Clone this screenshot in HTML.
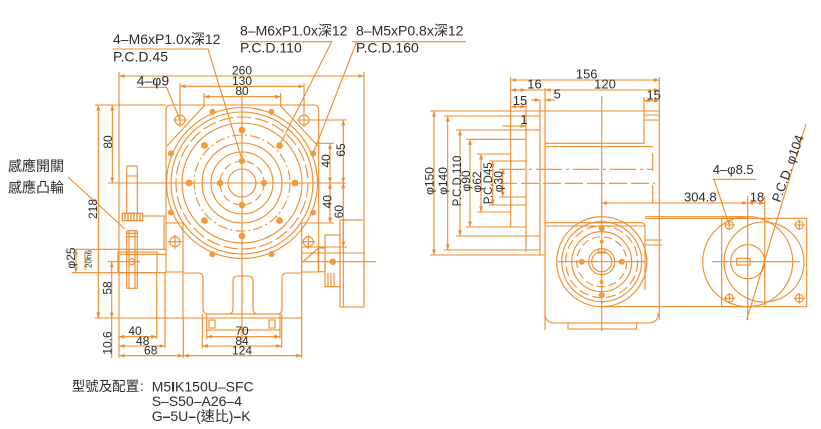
<!DOCTYPE html>
<html><head><meta charset="utf-8">
<style>
html,body{margin:0;padding:0;background:#fff;}
svg{display:block;}
text{font-family:"Liberation Sans","Noto Sans CJK TC",sans-serif;fill:#2b2b2b;}
</style></head><body>
<svg width="821" height="429" viewBox="0 0 821 429" xmlns="http://www.w3.org/2000/svg">
<defs>
<marker id="a" viewBox="0 0 10 10" refX="10" refY="5" markerWidth="5" markerHeight="5" orient="auto-start-reverse"><path d="M0,1.5L10,5L0,8.5z" fill="#ee8a2a"/></marker>
</defs>

<!-- ================= FRONT VIEW ================= -->
<g fill="none" stroke="#ef8b2a" stroke-width="1.1">
  <!-- flange outline -->
  <path d="M166,272 V110 Q166,105 171,105 H314 Q318.7,105 318.7,110 V272"/>
  <path d="M166,272 H183 M301.7,272 H318.7"/>
  <path d="M204,106 L167,146 M280.7,106 L318,146"/>
  <path d="M183,223 V272 M301.7,223 V272 M166,223 H183 M301.7,223 H318.7"/>
  <!-- circles -->
  <circle cx="242" cy="183" r="75.5"/>
  <circle cx="242" cy="183" r="71"/>
  <circle cx="242" cy="183" r="66" stroke-dasharray="14,4"/>
  <circle cx="242" cy="183" r="60"/>
  <circle cx="242" cy="183" r="48" stroke-dasharray="10,3,2,3"/>
  <circle cx="242" cy="183" r="40"/>
  <circle cx="242" cy="183" r="31"/>
  <circle cx="242" cy="183" r="22" stroke-dasharray="8,4"/>
  <circle cx="242" cy="183" r="14"/>
  <!-- holes 4-phi9 and side holes -->
  <circle cx="180" cy="120" r="5"/><path d="M173,120H187M180,113V127"/>
  <circle cx="304" cy="120" r="5"/><path d="M297,120H311M304,113V127"/>
  <circle cx="175" cy="241.7" r="5"/><path d="M168,241.7H182M175,234.7V248.7"/>
  <circle cx="308.3" cy="241.7" r="5"/><path d="M301.3,241.7H315.3M308.3,234.7V248.7"/>
  <!-- lower body -->
  <path d="M183,250 V318 M301.7,250 V318"/>
  <path d="M183,273 H198 Q203,273 203,278 V309 Q203,314 208,314 H228 Q233,314 233,309 V281 Q233,276 238,276 H248 Q253,276 253,281 V309 Q253,314 258,314 H277 Q282,314 282,309 V278 Q282,273 287,273 H302"/>
  <rect x="206.7" y="314" width="73.3" height="16"/>
  <rect x="209" y="320" width="6" height="8"/><rect x="269" y="320" width="6" height="8"/>
  <!-- center lines -->
  <path d="M108,183 H346 M242,93 V342"/>
  <!-- sensor -->
  <rect x="126.7" y="166" width="10.6" height="47.3"/>
  <path d="M126.7,176 H137.3"/>
  <rect x="122.3" y="213.3" width="20.4" height="7.4" stroke-width="1.2"/>
  <path d="M125,213.3V220.7M128,213.3V220.7M131,213.3V220.7M134,213.3V220.7M137,213.3V220.7M140,213.3V220.7" stroke-width="1.3"/>
  <path d="M142.7,216 H166 M164,216 V250"/>
  <rect x="126.7" y="230.7" width="10.6" height="57.6"/>
  <path d="M129,230.7V288.3M135,230.7V288.3M126.7,233.3H137.3M126.7,236.7H137.3"/>
  <circle cx="131.7" cy="261.7" r="3"/>
  <!-- input shaft -->
  <path d="M72,249.3 H166 M72,272.7 H166 M120,254.3 H166"/>
  <rect x="118" y="252" width="39" height="20.7"/>
  <!-- right pulley -->
  <rect x="340" y="220" width="24" height="87"/>
  <path d="M343.3,220 V307"/>
  <rect x="325" y="235" width="15" height="51.7"/>
  <rect x="318.3" y="248" width="6.7" height="23.7"/>
  <path d="M328,273V287M331,273V287M334,273V287"/>
  <path d="M302,253 H365 M302,261.7 H376 M303,261.7 L318.3,248.3"/>
  <!-- dimensions left -->
  <path d="M95,105 H166 M95,318 H302"/>
  <path d="M98.3,105 V318" marker-start="url(#a)" marker-end="url(#a)"/>
  <path d="M112.3,105 V183" marker-start="url(#a)" marker-end="url(#a)"/>
  <path d="M119,72 V358"/>
  <path d="M76,249.3 V272.7" marker-start="url(#a)" marker-end="url(#a)"/>
  <path d="M85,252 V270"/>
  <path d="M108,261.7 H140"/>
  <path d="M111.7,261.7 V318" marker-start="url(#a)" marker-end="url(#a)"/>
  <path d="M111.7,318 V358"/>
  <!-- dimensions bottom -->
  <path d="M156.7,272 V339 M165,272 V348 M183.3,318 V358 M206.7,330 V339 M202.3,314 V348 M280,330 V339 M281.7,314 V348 M301.7,318 V358"/>
  <path d="M119,336.7 H156.7" marker-start="url(#a)" marker-end="url(#a)"/>
  <path d="M119,346 H165" marker-start="url(#a)" marker-end="url(#a)"/>
  <path d="M119,355.7 H183.3" marker-start="url(#a)" marker-end="url(#a)"/>
  <path d="M206.7,336.7 H280" marker-start="url(#a)" marker-end="url(#a)"/>
  <path d="M202.3,346 H281.7" marker-start="url(#a)" marker-end="url(#a)"/>
  <path d="M183.3,355.7 H301.7" marker-start="url(#a)" marker-end="url(#a)"/>
  <!-- dimensions top -->
  <path d="M119,76 H364" marker-start="url(#a)" marker-end="url(#a)"/>
  <path d="M364,72 V307"/>
  <path d="M180,83 V115 M304,83 V115"/>
  <path d="M180,86.3 H304" marker-start="url(#a)" marker-end="url(#a)"/>
  <path d="M204,93 V107 M280.7,93 V107"/>
  <path d="M204,96.7 H280.7" marker-start="url(#a)" marker-end="url(#a)"/>
  <!-- dimensions right -->
  <path d="M308,120 H347 M316,143.3 H334 M318,223 H334 M302,247 H347"/>
  <path d="M330,143.3 V183" marker-start="url(#a)" marker-end="url(#a)"/>
  <path d="M330,183 V223" marker-start="url(#a)" marker-end="url(#a)"/>
  <path d="M343.3,120 V183" marker-start="url(#a)" marker-end="url(#a)"/>
  <path d="M343.3,183 V247" marker-start="url(#a)" marker-end="url(#a)"/>
  <!-- leaders -->
  <path d="M113,49 H208 L242,160"/>
  <path d="M240,41.7 H331.7 L279.5,145.5"/>
  <path d="M352,41.7 H466 M356.7,41.7 L313.1,153.5"/>
  <path d="M136.7,87.3 H166.7 L180,120"/>
  <path d="M68,177 L125,229"/>
</g>
<!-- front dots -->
<g fill="#f39a3a">
  <circle cx="295" cy="183" r="3.4"/><circle cx="279.5" cy="145.5" r="3.4"/><circle cx="242" cy="130" r="3.4"/><circle cx="204.5" cy="145.5" r="3.4"/>
  <circle cx="189" cy="183" r="3.4"/><circle cx="204.5" cy="220.5" r="3.4"/><circle cx="242" cy="236" r="3.4"/><circle cx="279.5" cy="220.5" r="3.4"/>
  <circle cx="264" cy="183" r="3.2"/><circle cx="242" cy="161" r="3.2"/><circle cx="220" cy="183" r="3.2"/><circle cx="242" cy="205" r="3.2"/>
  <circle cx="271.5" cy="111.9" r="3"/><circle cx="313.1" cy="153.5" r="3"/><circle cx="313.1" cy="212.5" r="3"/><circle cx="271.5" cy="254.1" r="3"/>
  <circle cx="212.5" cy="254.1" r="3"/><circle cx="170.9" cy="212.5" r="3"/><circle cx="170.9" cy="153.5" r="3"/><circle cx="212.5" cy="111.9" r="3"/>
  <circle cx="332.7" cy="261.7" r="3.2"/>
</g>

<!-- front text -->
<g font-size="14">
  <text x="113" y="44">4–M6xP1.0x深12</text>
  <text x="113" y="61.5">P.C.D.45</text>
  <text x="240" y="35.7">8–M6xP1.0x深12</text>
  <text x="240" y="52.7">P.C.D.110</text>
  <text x="356" y="35.7">8–M5xP0.8x深12</text>
  <text x="356" y="52.7">P.C.D.160</text>
  <text x="136.7" y="85.5">4–φ9</text>
  <text x="8" y="171">感應開關</text>
  <text x="8" y="192.5">感應凸輪</text>
</g>
<g font-size="12" text-anchor="middle">
  <text x="242" y="74.5">260</text>
  <text x="242" y="84.8">130</text>
  <text x="242" y="95">80</text>
  <text x="135" y="335">40</text>
  <text x="142.7" y="345">48</text>
  <text x="150.7" y="354.5">68</text>
  <text x="242" y="335">70</text>
  <text x="242" y="345">84</text>
  <text x="242" y="354.5">124</text>
  <text transform="translate(112,142) rotate(-90)">80</text>
  <text transform="translate(97,209) rotate(-90)">218</text>
  <text transform="translate(75,258) rotate(-90)">φ25</text>
  <text transform="translate(111.7,288) rotate(-90)">58</text>
  <text transform="translate(111.7,343) rotate(-90)">10.6</text>
  <text transform="translate(330,161) rotate(-90)">40</text>
  <text transform="translate(345,150) rotate(-90)">65</text>
  <text transform="translate(331.5,201.7) rotate(-90)">40</text>
  <text transform="translate(343,211.7) rotate(-90)">60</text>
  <text transform="translate(91.5,259) rotate(-90)" font-size="8">20h6</text>
</g>

<!-- ================= SIDE VIEW ================= -->
<g fill="none" stroke="#ef8b2a" stroke-width="1.1">
  <!-- flange ext lines -->
  <path d="M430,111 H659.3 M430,255 H545"/>
  <path d="M444,116 H540 M444,250 H540"/>
  <path d="M456,130 H540 M456,236 H540"/>
  <path d="M466,139.3 H526 M466,227 H526"/>
  <path d="M477,154 H510.7 M477,212 H510.7"/>
  <path d="M489,161 H526.7 M489,205 H526.7"/>
  <path d="M499,197 H526.7"/>
  <path d="M499,169.3 H652" stroke-dasharray="26,4,3,4"/>
  <path d="M499,183.3 H655" stroke-dasharray="18,4"/>
  <!-- flange vertical lines -->
  <path d="M510.7,77 V227 M526,100 V252 M540,100 V255 M545,88 V330"/>
  <!-- body -->
  <path d="M659.3,77 V320"/>
  <path d="M644,97 V143.3 H545"/>
  <path d="M644,115 H660 M644,120 H660"/>
  <path d="M545,146.7 H653"/>
  <path d="M652.7,153 V213" stroke-dasharray="18,14"/>
  <path d="M545,222.7 H641 Q645,222.7 645,227 V290"/>
  <path d="M545,226 H645"/>
  <path d="M545,313 Q545,323 555,323 H648.3 Q658.3,323 658.3,313"/>
  <rect x="568" y="323" width="68.7" height="6"/>
  <path d="M645,240 H662 M645,245 H662"/>
  <!-- belt -->
  <path d="M645,216.7 H747.7 M645,218.5 H747.7 M601.7,306.7 H747.7"/>
  <!-- input circle -->
  <circle cx="601.7" cy="261.7" r="45"/>
  <circle cx="601.7" cy="261.7" r="40"/>
  <circle cx="601.7" cy="261.7" r="36" stroke-dasharray="10,4"/>
  <circle cx="601.7" cy="261.7" r="30"/>
  <circle cx="601.7" cy="261.7" r="25" stroke-dasharray="8,4"/>
  <circle cx="601.7" cy="261.7" r="13"/>
  <circle cx="601.7" cy="261.7" r="10"/>
  <rect x="598.5" y="249" width="6.4" height="4"/>
  <path d="M558,261.7 H645 M601.7,96 V331"/>
  <!-- motor -->
  <rect x="721.7" y="218.3" width="85" height="88.4"/>
  <circle cx="747.7" cy="261.7" r="45"/>
  <circle cx="764" cy="262" r="40"/>
  <circle cx="747.7" cy="261.7" r="17"/>
  <rect x="736.7" y="258.3" width="13.3" height="6.7"/>
  <path d="M712,261.7 H800 M747.7,196 V320 M764.7,196 V306"/>
  <circle cx="729.3" cy="225" r="4"/><path d="M724,225H735M729.3,219.7V230.3"/>
  <circle cx="799.3" cy="225" r="4"/><path d="M794,225H805M799.3,219.7V230.3"/>
  <circle cx="729.3" cy="298.3" r="4"/><path d="M724,298.3H735M729.3,293V303.6"/>
  <circle cx="799.3" cy="298.3" r="4"/><path d="M794,298.3H805M799.3,293V303.6"/>
  <!-- dims -->
  <path d="M510.7,80 H659.3" marker-start="url(#a)" marker-end="url(#a)"/>
  <path d="M510.7,90 H526" marker-start="url(#a)" marker-end="url(#a)"/>
  <path d="M526,90 H545"/>
  <path d="M545,90 H659.3" marker-start="url(#a)" marker-end="url(#a)"/>
  <path d="M510.7,106.7 H526" marker-start="url(#a)" marker-end="url(#a)"/>
  <path d="M531,100 H540" marker-end="url(#a)"/>
  <path d="M555,100 H545" marker-end="url(#a)"/>
  <path d="M644,100.7 H659.3" marker-start="url(#a)" marker-end="url(#a)"/>
  <path d="M502,126 H526" marker-end="url(#a)"/>
  <path d="M434,111 V255" marker-start="url(#a)" marker-end="url(#a)"/>
  <path d="M447.7,116 V250" marker-start="url(#a)" marker-end="url(#a)"/>
  <path d="M460,130 V236" marker-start="url(#a)" marker-end="url(#a)"/>
  <path d="M470,139.3 V227" marker-start="url(#a)" marker-end="url(#a)"/>
  <path d="M481,154 V212" marker-start="url(#a)" marker-end="url(#a)"/>
  <path d="M492.7,161 V205" marker-start="url(#a)" marker-end="url(#a)"/>
  <path d="M502.7,168.5 V197" marker-start="url(#a)" marker-end="url(#a)"/>
  <path d="M601.7,203 H747.7" marker-start="url(#a)" marker-end="url(#a)"/>
  <path d="M747.7,203 H764.7" marker-start="url(#a)" marker-end="url(#a)"/>
  <!-- leaders -->
  <path d="M712.7,179.3 H756 M714,179.3 L729.3,225"/>
  <path d="M806,124 L746.7,320"/>
</g>
<g fill="#f39a3a">
  <circle cx="601.7" cy="228.3" r="3"/><circle cx="601.7" cy="295" r="3"/>
  <circle cx="581.7" cy="261.7" r="3"/><circle cx="621.7" cy="261.7" r="3"/>
  <circle cx="601.7" cy="241.7" r="2"/><circle cx="601.7" cy="282" r="2"/>
</g>

<!-- side text -->
<g font-size="13" text-anchor="middle">
  <text x="586.7" y="78.5">156</text>
  <text x="534.5" y="88.3">16</text>
  <text x="605" y="88.3">120</text>
  <text x="520" y="105">15</text>
  <text x="557.3" y="98.3">5</text>
  <text x="653.7" y="99.3">15</text>
  <text x="524" y="124">1</text>
  <text x="700.3" y="201.3">304.8</text>
  <text x="757" y="201.3">18</text>
</g>
<g font-size="12" text-anchor="middle">
  <text transform="translate(433.6,181) rotate(-90)">φ150</text>
  <text transform="translate(447,181) rotate(-90)">φ140</text>
  <text transform="translate(461,181) rotate(-90)" font-size="11.5">P.C.D.110</text>
  <text transform="translate(470,181) rotate(-90)">φ90</text>
  <text transform="translate(481,182) rotate(-90)">φ62</text>
  <text transform="translate(492,183.3) rotate(-90)" font-size="11.5">P.C.D45</text>
  <text transform="translate(502.5,181.7) rotate(-90)">φ30</text>
</g>
<text x="712.7" y="174" font-size="13">4–φ8.5</text>
<text transform="translate(780,203) rotate(-70)" font-size="13">P.C.D. φ104</text>

<!-- bottom model text -->
<g font-size="14">
  <text x="71.7" y="391" font-size="13.5">型號及配置</text>
  <text x="140" y="391">:</text>
  <text x="151.7" y="391.5">M5<tspan font-weight="bold">I</tspan>K150U–SFC</text>
  <text x="151.7" y="406">S–S50–A26–4</text>
  <text x="151.7" y="421">G<tspan font-weight="bold">–</tspan>5U<tspan font-weight="bold">–</tspan>(速比)<tspan font-weight="bold">–</tspan>K</text>
</g>
</svg>
</body></html>
